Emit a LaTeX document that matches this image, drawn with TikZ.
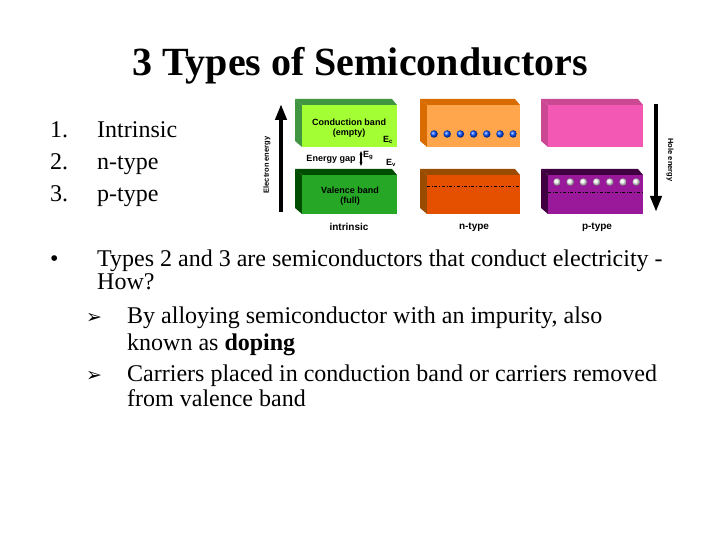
\documentclass[tikz,border=0pt]{standalone}
\usepackage{fontspec}
\usetikzlibrary{arrows.meta,shadings}
\setmainfont{Liberation Serif}
\newfontfamily\dv{DejaVu Sans}
\newfontfamily\hs{Liberation Sans}
\begin{document}
\begin{tikzpicture}[x=1pt,y=-1pt,
  txt/.style={anchor=base west,inner sep=0,font=\fontsize{24}{28}\selectfont},
  lab/.style={inner sep=0,font=\hs\bfseries\fontsize{9}{10}\selectfont},
  blab/.style={inner sep=0,font=\hs\bfseries\fontsize{10}{11}\selectfont},
  dot/.style={circle,inner sep=0,minimum size=7.5pt,ball color=#1}]
\useasboundingbox (0,0) rectangle (720,540);
\newcommand\bandbox[6]{% x0 ytop ybot width front side
  \fill[#6] (#1-7,#2-6) -- (#1+#4-5,#2-6) -- (#1+#4,#2) -- (#1,#2) -- cycle;
  \fill[#6] (#1-7,#2-6) -- (#1,#2) -- (#1,#3) -- (#1-7,#3-6) -- cycle;
  \fill[#5] (#1,#2) rectangle (#1+#4,#3);}
\node[font=\bfseries\fontsize{40}{46}\selectfont] (title) at (360,66) {3 Types of Semiconductors};
\node[txt] (n1) at (50,138) {1.}; \node[txt] (t1) at (97,138) {Intrinsic};
\node[txt] (n2) at (50,170) {2.}; \node[txt] (t2) at (97,170) {n-type};
\node[txt] (n3) at (50,202) {3.}; \node[txt] (t3) at (97,202) {p-type};
\node[txt] (b) at (50,266) {•};
\node[txt] (l1) at (97,266) {Types 2 and 3 are semiconductors that conduct electricity -};
\node[txt] (l2) at (97,289) {How?};
\node[txt,font=\dv\fontsize{19}{22}\selectfont] (a1) at (86,323) {➢};
\node[txt] (l3) at (127,323) {By alloying semiconductor with an impurity, also};
\node[txt] (l4) at (127,350) {known as \textbf{doping}};
\node[txt,font=\dv\fontsize{19}{22}\selectfont] (a2) at (86,381) {➢};
\node[txt] (l5) at (127,381) {Carriers placed in conduction band or carriers removed};
\node[txt] (l6) at (127,406) {from valence band};
% boxes
\bandbox{302}{105}{147}{95}{green!45!yellow!80!white}{green!45!black!75}
\bandbox{302}{175}{214}{95}{green!60!black!85}{green!30!black}
\bandbox{427}{105}{147}{93}{orange!70!white}{orange!85!black}
\bandbox{427}{175}{214}{93}{orange!70!red!90!black}{orange!60!black}
\bandbox{548}{105}{147}{95}{magenta!65!white}{magenta!55!violet!85!white}
\bandbox{548}{175}{214}{95}{violet!60!magenta!80!black!90}{violet!50!black}
\draw[dash dot,thin] (427,186) -- (520,186);
\draw[dash dot,thin] (548,192) -- (643,192);
\foreach \i in {0,...,6} {\node[dot=blue!70!cyan] (e\i) at (434+13.2*\i,134) {};}
\foreach \i in {0,...,6} {\node[dot=white] (h\i) at (557+13.2*\i,182) {};}
\node[lab,align=center] (cb) at (349,128) {Conduction band\\(empty)};
\node[lab,align=center] (vb) at (350,196) {Valence band\\(full)};
\node[lab] (ec) at (388,140) {E\textsubscript{c}};
\node[lab] (ev) at (391,163) {E\textsubscript{v}};
\node[lab] (eg) at (331,159) {Energy gap};
\coordinate (g1) at (361,151); \coordinate (g2) at (361,166);
\draw[{Stealth[length=4pt]}-{Stealth[length=4pt]},line width=1.2pt] (g1) -- (g2);
\node[lab,anchor=west] (egl) at (363,156) {E\textsubscript{g}};
\coordinate (la) at (281,212); \coordinate (lb) at (281,104);
\draw[line width=4pt,-{Triangle[length=16pt,width=11pt]}] (la) -- (lb);
\node[lab,rotate=90,font=\hs\bfseries\fontsize{7.5}{8}\selectfont] (eel) at (267,165) {Electron energy};
\coordinate (ra) at (656,104); \coordinate (rb) at (656,212);
\draw[line width=4pt,-{Triangle[length=16pt,width=11pt]}] (ra) -- (rb);
\node[lab,rotate=-90,font=\hs\bfseries\fontsize{7.5}{8}\selectfont] (hel) at (670,160) {Hole energy};
\node[blab] (li) at (349,227) {intrinsic};
\node[blab] (ln) at (474,227) {n-type};
\node[blab] (lp) at (597,227) {p-type};
\end{tikzpicture}
\end{document}
